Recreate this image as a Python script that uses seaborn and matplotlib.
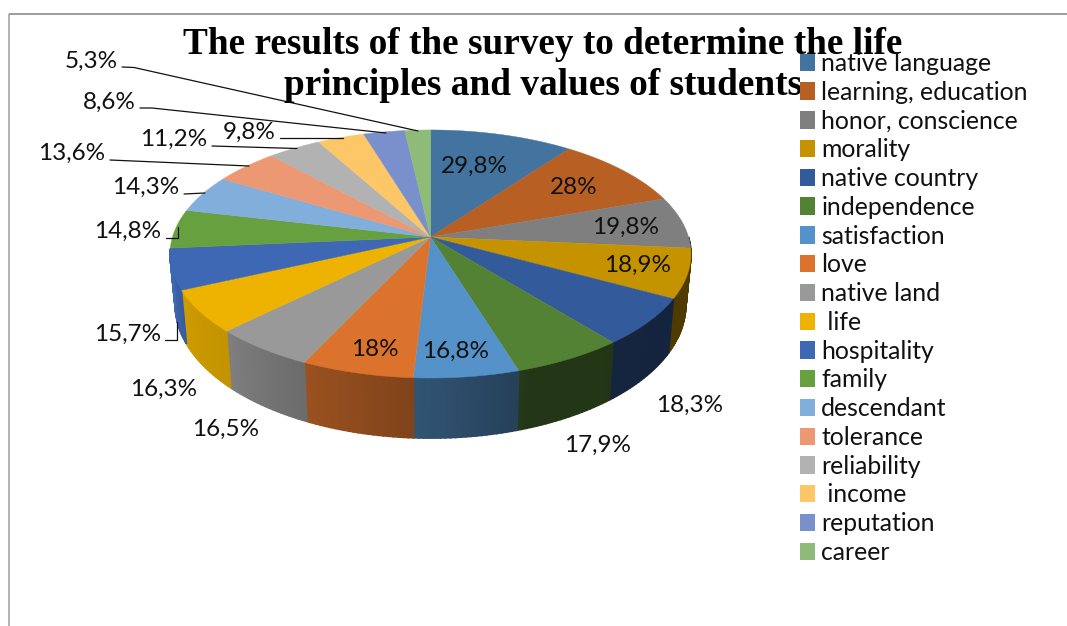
import numpy as np
import matplotlib
matplotlib.use("Agg")
import matplotlib.pyplot as plt
from matplotlib.patches import Patch
import seaborn as sns

categories = ["native language", "learning, education", "honor, conscience", "morality",
              "native country", "independence", "satisfaction", "love", "native land",
              " life", "hospitality", "family", "descendant", "tolerance", "reliability",
              " income", "reputation", "career"]
values = [29.8, 28, 19.8, 18.9, 18.3, 17.9, 16.8, 18, 16.5,
          16.3, 15.7, 14.8, 14.3, 13.6, 11.2, 9.8, 8.6, 5.3]
slice_colors = ["#43749F", "#B85F24", "#7F7F7F", "#C69300", "#335A9A", "#548235",
                "#5592C9", "#DC732D", "#999999", "#EDB300", "#3F68B4", "#66A03F",
                "#82AEDC", "#EC9873", "#B2B2B2", "#FDC666", "#7A90CC", "#8FBB78"]

# Label anchors in figure pixels, in the same order as the values
label_xy = [(474, 166), (574, 187), (626, 227), (638, 265), (690, 405), (598, 445),
            (456, 351), (375, 349), (226, 429), (164, 389), (128, 334), (128, 231),
            (146, 187), (72, 153), (174, 139), (249, 132), (109, 102), (91, 61)]
leaders = [[(122, 67), (134, 67.5), (418, 131)],
           [(140, 108), (152, 108), (386, 133)],
           [(280, 138), (343, 138)],
           [(212, 146), (297, 148.5)],
           [(110, 160), (249, 166)],
           [(184, 194), (205, 193)],
           [(166, 238), (178, 238), (178, 227)],
           [(165, 340), (177, 340), (177, 322)]]

sns.set_style("white")
palette = sns.color_palette(slice_colors)
W, H = 1067, 626
fig = plt.figure(figsize=(W / 100, H / 100), dpi=100)
ax = fig.add_axes([0, 0, 1, 1])
ax.set_xlim(0, W)
ax.set_ylim(H, 0)
ax.axis("off")

# Pie viewed in perspective: the disc's far edge is compressed, the near edge enlarged
CX, CY, RX, AY, K = 430.5, 237.0, 258.0, 121.7, 0.137


def top_xy(theta):
    u, v = np.sin(theta), -np.cos(theta)
    w = 1 - K * v
    return CX + RX * u / w, CY + AY * v / w


def bottom_xy(theta):
    x, y = top_xy(theta)
    return CX + (x - CX) * 0.98, y + 54 + 0.074 * (y - 296)


def wall_shade(deg):
    return np.interp(deg, [100, 120, 160, 183, 205, 225, 245, 262, 275],
                     [0.40, 0.40, 0.42, 0.58, 0.70, 0.82, 0.87, 1.0, 1.0])


edges = np.concatenate([[0], np.cumsum(values)]) / np.sum(values) * 2 * np.pi

# Side wall first, in narrow strips so the shading can vary around the rim
for a0, a1, col in zip(edges[:-1], edges[1:], palette):
    lo, hi = max(a0, np.pi / 2), min(a1, 1.47 * np.pi)
    if hi <= lo:
        continue
    t = np.linspace(lo, hi, max(2, int(np.degrees(hi - lo)) + 1))
    for t0, t1 in zip(t[:-1], t[1:]):
        xt, yt = top_xy(np.array([t0, t1]))
        xb, yb = bottom_xy(np.array([t1, t0]))
        shade = np.array(col) * wall_shade(np.degrees((t0 + t1) / 2))
        ax.fill(np.r_[xt, xb], np.r_[yt, yb], color=shade, lw=1.2, zorder=2)

# Top surface of the disc
for a0, a1, col in zip(edges[:-1], edges[1:], palette):
    t = np.linspace(a0, a1, 80)
    x, y = top_xy(t)
    ax.fill(np.r_[CX, x], np.r_[CY, y], color=col, lw=0.3, zorder=3)

# Chart frame, open towards the right and bottom image edges
ax.plot([9, 9], [H, 14], color="#A6A6A6", lw=1.2, zorder=1, solid_capstyle="butt")
ax.plot([9, W], [14, 14], color="#8C8C8C", lw=1.2, zorder=1, solid_capstyle="butt")

for path in leaders:
    xs, ys = zip(*path)
    ax.plot(xs, ys, color="#111111", lw=0.9, zorder=4)

for v, (lx, ly) in zip(values, label_xy):
    ax.text(lx, ly, f"{v:g}%".replace(".", ","), family="Lato", fontsize=17.5,
            color="#111111", ha="center", va="center", zorder=5)

ax.text(543, 65, "The results of the survey to determine the life\n"
                 "principles and values of students",
        family="Liberation Serif", fontweight="bold", fontsize=26.8, linespacing=1.2,
        color="black", ha="center", va="center", zorder=6)

handles = [Patch(facecolor=c, edgecolor="none", label=n) for c, n in zip(palette, categories)]
leg = ax.legend(handles=handles, loc="upper left", bbox_to_anchor=(800 / W, 1 - 52 / H),
                frameon=False, labelspacing=0.233, handlelength=0.61,
                handleheight=0.7, handletextpad=0.25, borderpad=0, borderaxespad=0,
                prop={"family": "Lato", "size": 17.8})
leg.set_zorder(7)
for txt in leg.get_texts():
    txt.set_color("#111111")

fig.savefig("out.png", dpi=100, facecolor="white")
